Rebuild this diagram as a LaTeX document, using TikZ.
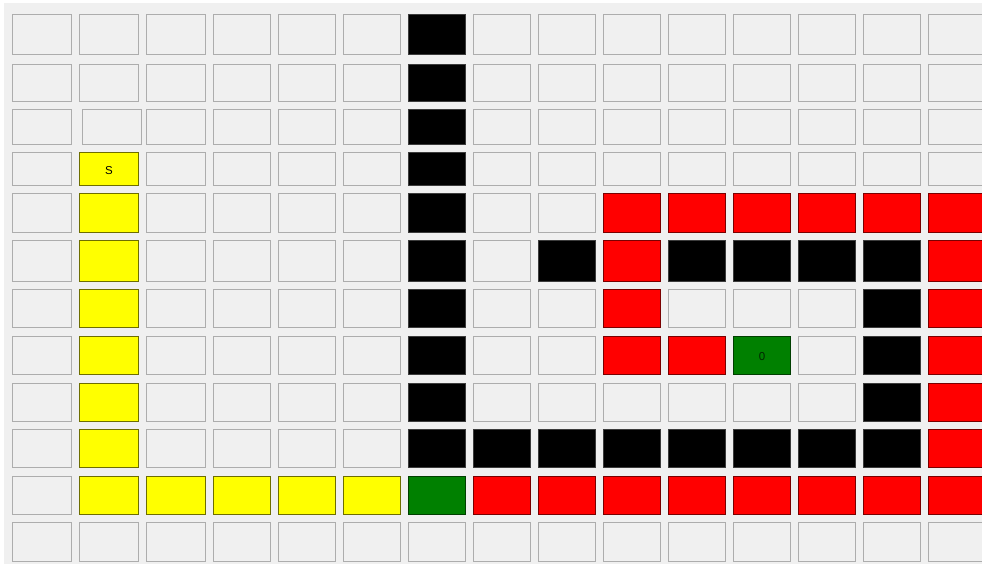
\documentclass[tikz,border=0pt]{standalone}
\usepackage{fontspec}
\setsansfont{Liberation Sans}

\definecolor{pane}{HTML}{F0F0F0}
\definecolor{rim}{HTML}{ADADAD}
\definecolor{pathfill}{HTML}{FFFF00}
\definecolor{pathrim}{HTML}{6E6E00}
\definecolor{firefill}{HTML}{FF0000}
\definecolor{firerim}{HTML}{7A0000}
\definecolor{goalfill}{HTML}{008000}
\definecolor{goalrim}{HTML}{003F00}
\definecolor{wallrim}{HTML}{3C3C3C}

\tikzset{
  cell/.style={draw=rim,fill=pane,line width=1.4pt,inner sep=0pt},
  fr/.style={},
  fs/.style={xshift=3pt},
  pa/.style={fill=pathfill,draw=pathrim},
  wl/.style={fill=black,draw=wallrim},
  rd/.style={fill=firefill,draw=firerim},
  gn/.style={fill=goalfill,draw=goalrim},
  tag/.style={font=\sffamily\fontsize{11.5}{13}\selectfont,inner sep=0pt}
}

\begin{document}
\begin{tikzpicture}[x=1pt,y=-1pt]
\useasboundingbox (0,0) rectangle (982,564);
\fill[white] (0,0) rectangle (982,564);
\fill[pane] (4,3) rectangle (982,564);
\def\colx{{12,79,146,213,278,343,408,473,538,603,668,733,798,863,928}}
\foreach \r/\ya/\yb/\cells in {
  0/14/55/{fr,fr,fr,fr,fr,fr,wl,fr,fr,fr,fr,fr,fr,fr,fr},
  1/64/102/{fr,fr,fr,fr,fr,fr,wl,fr,fr,fr,fr,fr,fr,fr,fr},
  2/109/145/{fr,fs,fr,fr,fr,fr,wl,fr,fr,fr,fr,fr,fr,fr,fr},
  3/152/186/{fr,pa,fr,fr,fr,fr,wl,fr,fr,fr,fr,fr,fr,fr,fr},
  4/193/233/{fr,pa,fr,fr,fr,fr,wl,fr,fr,rd,rd,rd,rd,rd,rd},
  5/240/282/{fr,pa,fr,fr,fr,fr,wl,fr,wl,rd,wl,wl,wl,wl,rd},
  6/289/328/{fr,pa,fr,fr,fr,fr,wl,fr,fr,rd,fr,fr,fr,wl,rd},
  7/336/375/{fr,pa,fr,fr,fr,fr,wl,fr,fr,rd,rd,gn,fr,wl,rd},
  8/383/422/{fr,pa,fr,fr,fr,fr,wl,fr,fr,fr,fr,fr,fr,wl,rd},
  9/429/468/{fr,pa,fr,fr,fr,fr,wl,wl,wl,wl,wl,wl,wl,wl,rd},
  10/476/515/{fr,pa,pa,pa,pa,pa,gn,rd,rd,rd,rd,rd,rd,rd,rd},
  11/522/562/{fr,fr,fr,fr,fr,fr,fr,fr,fr,fr,fr,fr,fr,fr,fr}}{
  \foreach \st [count=\c from 0] in \cells {
    \pgfmathsetmacro\xa{\colx[\c]}
    \pgfmathsetmacro\w{\c<3 ? 60 : 58}
    \pgfmathsetmacro\cellw{\w-1.4}
    \pgfmathsetmacro\cellh{\yb-\ya-1.4}
    \node[cell,\st,minimum width=\cellw pt,minimum height=\cellh pt]
      (c-\r-\c) at ({\xa+\w/2},{(\ya+\yb)/2}) {};
  }
}
\node[tag] (start) at ([yshift=-1.5pt]c-3-1) {S};
\node[tag,text=goalrim!60!black] (cost) at ([yshift=-1.5pt]c-7-11) {0};
\end{tikzpicture}
\end{document}
